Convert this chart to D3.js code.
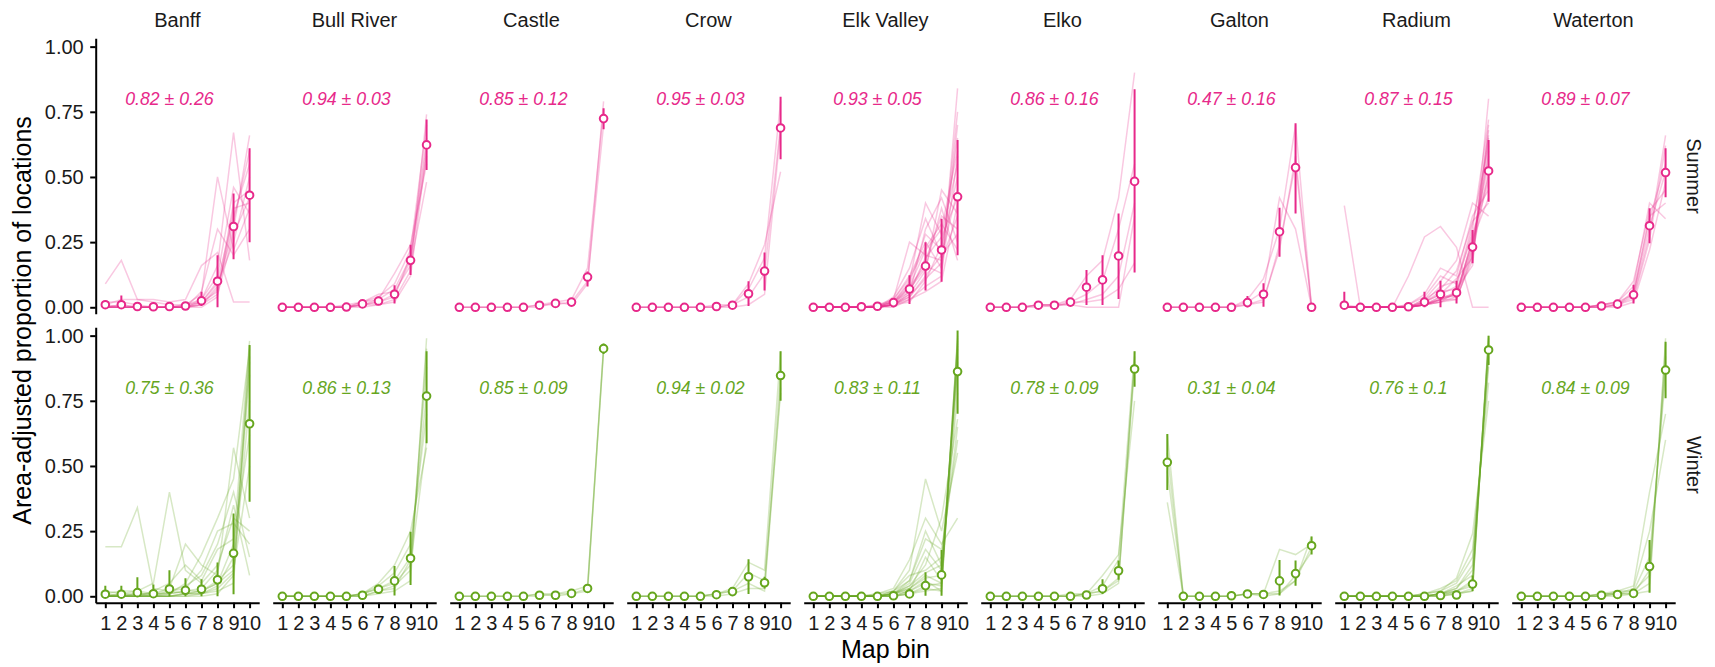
<!DOCTYPE html>
<html>
  <body>
    <style>
      body {
        margin: 0;
        background: #ffffff;
      }
      text {
        font-family: 'Liberation Sans', Arial, sans-serif;
      }
    </style>
    <script src="https://d3js.org/d3.v7.min.js"></script>
    <script type="text/javascript">
      const width = 1715;
      const height = 667;

      const sites = ['Banff', 'Bull River', 'Castle', 'Crow', 'Elk Valley', 'Elko', 'Galton', 'Radium', 'Waterton'];
      const seasons = ['Summer', 'Winter'];
      const bins = ['1', '2', '3', '4', '5', '6', '7', '8', '9', '10'];
      const yTicks = [0, 0.25, 0.5, 0.75, 1];
      const seasonColors = ['#E7298A', '#66A61E'];

      // correlation shown in each panel (mean ± sd)
      const summerRho = [0.82, 0.94, 0.85, 0.95, 0.93, 0.86, 0.47, 0.87, 0.89];
      const summerRhoSd = [0.26, 0.03, 0.12, 0.03, 0.05, 0.16, 0.16, 0.15, 0.07];
      const winterRho = [0.75, 0.86, 0.85, 0.94, 0.83, 0.78, 0.31, 0.76, 0.84];
      const winterRhoSd = [0.36, 0.13, 0.09, 0.02, 0.11, 0.09, 0.04, 0.1, 0.09];

      // mean per bin, with error bar ends
      const summerMean = [
        [0.01, 0.01, 0.003, 0.002, 0.003, 0.005, 0.025, 0.10, 0.31, 0.43],
        [0, 0, 0, 0, 0.001, 0.013, 0.024, 0.05, 0.18, 0.623],
        [0, 0, 0, 0, 0, 0.008, 0.015, 0.02, 0.116, 0.724],
        [0, 0, 0, 0, 0, 0.003, 0.008, 0.052, 0.139, 0.688],
        [0, 0, 0, 0.002, 0.004, 0.018, 0.07, 0.158, 0.22, 0.424],
        [0, 0, 0, 0.008, 0.008, 0.02, 0.077, 0.105, 0.197, 0.483],
        [0, 0, 0, 0, 0, 0.018, 0.05, 0.29, 0.536, 0],
        [0.008, 0, 0, 0, 0.002, 0.02, 0.05, 0.056, 0.231, 0.523],
        [0, 0, 0, 0, 0, 0.005, 0.012, 0.048, 0.313, 0.517],
      ];
      const summerLow = [
        [0, 0, 0, 0, 0, 0, 0.005, 0, 0.184, 0.25],
        [0, 0, 0, 0, 0, 0.005, 0.01, 0.015, 0.124, 0.527],
        [0, 0, 0, 0, 0, 0.003, 0.008, 0.01, 0.08, 0.683],
        [0, 0, 0, 0, 0, 0, 0.002, 0.005, 0.064, 0.568],
        [0, 0, 0, 0, 0, 0.005, 0.013, 0.064, 0.098, 0.20],
        [0, 0, 0, 0, 0, 0.005, 0.009, 0.009, 0.032, 0.133],
        [0, 0, 0, 0, 0, 0, 0.002, 0.194, 0.36, 0],
        [0, 0, 0, 0, 0, 0, 0, 0.015, 0.169, 0.405],
        [0, 0, 0, 0, 0, 0, 0.005, 0.015, 0.246, 0.422],
      ];
      const summerHigh = [
        [0.025, 0.045, 0.01, 0.008, 0.01, 0.015, 0.06, 0.20, 0.437, 0.61],
        [0, 0, 0, 0, 0.003, 0.025, 0.04, 0.085, 0.24, 0.72],
        [0, 0, 0, 0, 0, 0.014, 0.025, 0.03, 0.137, 0.764],
        [0, 0, 0, 0, 0, 0.006, 0.015, 0.10, 0.21, 0.808],
        [0, 0, 0, 0.005, 0.01, 0.035, 0.123, 0.25, 0.34, 0.642],
        [0, 0, 0, 0.015, 0.015, 0.035, 0.143, 0.20, 0.36, 0.837],
        [0, 0, 0, 0, 0, 0.043, 0.092, 0.382, 0.706, 0],
        [0.06, 0, 0, 0.002, 0.005, 0.06, 0.102, 0.102, 0.297, 0.642],
        [0, 0, 0, 0, 0, 0.01, 0.02, 0.086, 0.38, 0.61],
      ];
      const winterMean = [
        [0.008, 0.008, 0.014, 0.01, 0.028, 0.023, 0.027, 0.063, 0.165, 0.662],
        [0, 0, 0, 0, 0, 0.004, 0.027, 0.059, 0.146, 0.768],
        [0, 0, 0, 0, 0, 0.004, 0.004, 0.011, 0.03, 0.95],
        [0, 0, 0, 0, 0, 0.006, 0.018, 0.075, 0.052, 0.847],
        [0, 0, 0, 0, 0, 0.002, 0.009, 0.041, 0.082, 0.862],
        [0, 0, 0, 0, 0, 0, 0.005, 0.029, 0.098, 0.872],
        [0.514, 0, 0, 0, 0.002, 0.009, 0.007, 0.059, 0.087, 0.194],
        [0, 0, 0, 0, 0, 0, 0.003, 0.005, 0.047, 0.945],
        [0, 0, 0, 0, 0, 0.004, 0.007, 0.011, 0.114, 0.868],
      ];
      const winterLow = [
        [0, 0, 0, 0, 0, 0, 0, 0, 0.008, 0.363],
        [0, 0, 0, 0, 0, 0, 0.01, 0.003, 0.043, 0.587],
        [0, 0, 0, 0, 0, 0, 0, 0.005, 0.02, 0.93],
        [0, 0, 0, 0, 0, 0, 0.008, 0.009, 0.03, 0.75],
        [0, 0, 0, 0, 0, 0, 0, 0.002, 0.002, 0.70],
        [0, 0, 0, 0, 0, 0, 0, 0.009, 0.063, 0.804],
        [0.408, 0, 0, 0, 0, 0, 0, 0.003, 0.04, 0.16],
        [0, 0, 0, 0, 0, 0, 0, 0, 0.02, 0.887],
        [0, 0, 0, 0, 0, 0, 0, 0.003, 0.014, 0.76],
      ];
      const winterHigh = [
        [0.04, 0.04, 0.073, 0.045, 0.10, 0.069, 0.065, 0.13, 0.318, 0.964],
        [0, 0, 0, 0, 0, 0.01, 0.045, 0.116, 0.248, 0.94],
        [0, 0, 0, 0, 0, 0.008, 0.008, 0.018, 0.04, 0.97],
        [0, 0, 0, 0, 0, 0.012, 0.03, 0.142, 0.075, 0.94],
        [0, 0, 0, 0, 0, 0.005, 0.03, 0.092, 0.178, 1.02],
        [0, 0, 0, 0, 0, 0, 0.01, 0.065, 0.137, 0.94],
        [0.623, 0, 0, 0, 0.005, 0.02, 0.015, 0.139, 0.137, 0.229],
        [0, 0, 0, 0, 0, 0, 0.008, 0.012, 0.08, 1.0],
        [0, 0, 0, 0, 0, 0.008, 0.015, 0.02, 0.216, 0.977],
      ];

      // individual animals (faint lines), one list per site
      const summerTracks = [
        [
          [0.09, 0.18, 0.03, 0.02, 0.01, 0.01, 0.02, 0.06, 0.40, 0.45],
          [0, 0, 0, 0, 0, 0.01, 0.05, 0.50, 0.22, 0.38],
          [0, 0.01, 0, 0, 0, 0, 0.03, 0.16, 0.67, 0.18],
          [0.01, 0.03, 0.03, 0.03, 0.02, 0.03, 0.16, 0.21, 0.02, 0.02],
          [0, 0, 0, 0, 0, 0, 0.01, 0.08, 0.30, 0.66],
          [0, 0, 0, 0, 0, 0, 0.02, 0.10, 0.35, 0.55],
          [0, 0, 0, 0, 0, 0, 0.01, 0.05, 0.28, 0.42],
          [0.01, 0, 0, 0, 0, 0.01, 0.03, 0.12, 0.46, 0.36],
          [0, 0, 0, 0, 0, 0, 0.02, 0.09, 0.25, 0.50],
          [0, 0.01, 0, 0, 0, 0, 0.01, 0.07, 0.33, 0.60],
          [0, 0, 0, 0, 0, 0, 0, 0.04, 0.38, 0.40],
          [0.02, 0.02, 0.01, 0, 0, 0, 0.06, 0.30, 0.20, 0.30],
        ],
        [
          [0, 0, 0, 0, 0, 0.01, 0.02, 0.05, 0.18, 0.62],
          [0, 0, 0, 0, 0, 0.02, 0.04, 0.09, 0.22, 0.70],
          [0, 0, 0, 0, 0, 0.01, 0.03, 0.13, 0.24, 0.55],
          [0, 0, 0, 0, 0, 0.01, 0.01, 0.03, 0.14, 0.74],
          [0, 0, 0, 0, 0, 0.02, 0.05, 0.06, 0.16, 0.48],
          [0, 0, 0, 0, 0, 0.01, 0.02, 0.04, 0.20, 0.65],
          [0, 0, 0, 0, 0, 0, 0.01, 0.02, 0.12, 0.60],
          [0, 0, 0, 0, 0.01, 0.02, 0.03, 0.07, 0.19, 0.58],
        ],
        [
          [0, 0, 0, 0, 0, 0.01, 0.02, 0.03, 0.15, 0.76],
          [0, 0, 0, 0, 0, 0.01, 0.01, 0.02, 0.10, 0.70],
          [0, 0, 0, 0, 0, 0, 0.02, 0.01, 0.09, 0.79],
        ],
        [
          [0, 0, 0, 0, 0, 0.01, 0.01, 0.07, 0.19, 0.79],
          [0, 0, 0, 0, 0, 0, 0.01, 0.04, 0.13, 0.70],
          [0, 0, 0, 0, 0, 0, 0.01, 0.09, 0.24, 0.52],
          [0, 0, 0, 0, 0, 0, 0, 0.01, 0.05, 0.68],
        ],
        [
          [0, 0, 0, 0, 0, 0.01, 0.04, 0.12, 0.20, 0.45],
          [0, 0, 0, 0, 0, 0.02, 0.08, 0.22, 0.30, 0.60],
          [0, 0, 0, 0, 0.01, 0.03, 0.25, 0.20, 0.18, 0.35],
          [0, 0, 0, 0, 0, 0.01, 0.05, 0.30, 0.42, 0.25],
          [0, 0, 0, 0, 0, 0.02, 0.10, 0.40, 0.28, 0.55],
          [0, 0, 0, 0, 0, 0.01, 0.03, 0.08, 0.12, 0.84],
          [0, 0, 0, 0, 0, 0.01, 0.06, 0.18, 0.35, 0.30],
          [0, 0, 0, 0, 0, 0.03, 0.12, 0.25, 0.15, 0.70],
          [0, 0, 0, 0, 0, 0.01, 0.02, 0.10, 0.24, 0.50],
          [0, 0, 0, 0, 0.01, 0.02, 0.07, 0.15, 0.38, 0.18],
          [0, 0, 0, 0, 0, 0, 0.03, 0.06, 0.10, 0.40],
          [0, 0, 0, 0, 0, 0.02, 0.09, 0.28, 0.22, 0.65],
          [0, 0, 0, 0, 0, 0.01, 0.05, 0.14, 0.45, 0.36],
          [0, 0, 0, 0, 0, 0.04, 0.15, 0.34, 0.20, 0.28],
          [0, 0, 0, 0, 0, 0.01, 0.04, 0.11, 0.17, 0.75],
          [0, 0, 0, 0, 0, 0.02, 0.06, 0.19, 0.27, 0.42],
          [0, 0, 0, 0, 0, 0.01, 0.08, 0.16, 0.13, 0.58],
          [0, 0, 0, 0, 0, 0.03, 0.11, 0.23, 0.32, 0.22],
        ],
        [
          [0, 0, 0, 0.01, 0.01, 0.03, 0.12, 0.18, 0.42, 0.90],
          [0, 0, 0, 0.01, 0.01, 0.02, 0.05, 0.10, 0.30, 0.55],
          [0, 0, 0, 0, 0.01, 0.01, 0.03, 0.05, 0.12, 0.40],
          [0, 0, 0, 0.01, 0, 0.02, 0.02, 0.03, 0.07, 0.17],
          [0, 0, 0, 0.01, 0.01, 0.01, 0, 0, 0, 0.35],
        ],
        [
          [0, 0, 0, 0, 0, 0.02, 0.06, 0.42, 0.30, 0],
          [0, 0, 0, 0, 0, 0.03, 0.11, 0.30, 0.70, 0],
          [0, 0, 0, 0, 0, 0.01, 0.03, 0.22, 0.58, 0],
          [0, 0, 0, 0, 0, 0.01, 0.02, 0.24, 0.55, 0],
        ],
        [
          [0.39, 0, 0, 0, 0, 0.01, 0.03, 0.06, 0.25, 0.55],
          [0, 0, 0, 0, 0.12, 0.27, 0.31, 0.23, 0, 0],
          [0, 0, 0, 0, 0, 0.02, 0.05, 0.08, 0.30, 0.72],
          [0, 0, 0, 0, 0, 0.01, 0.04, 0.05, 0.22, 0.60],
          [0, 0, 0, 0, 0.01, 0.05, 0.15, 0.12, 0.35, 0.45],
          [0, 0, 0, 0, 0, 0.01, 0.02, 0.04, 0.18, 0.65],
          [0, 0, 0, 0, 0, 0.02, 0.08, 0.10, 0.28, 0.50],
          [0, 0, 0, 0, 0, 0.01, 0.03, 0.03, 0.20, 0.68],
          [0.01, 0, 0, 0, 0, 0.03, 0.10, 0.18, 0.40, 0.35],
          [0, 0, 0, 0, 0, 0.01, 0.02, 0.06, 0.24, 0.58],
          [0, 0, 0, 0, 0, 0.02, 0.06, 0.07, 0.16, 0.80],
          [0, 0, 0, 0, 0, 0.01, 0.03, 0.05, 0.26, 0.42],
          [0, 0, 0, 0, 0.01, 0.04, 0.12, 0.09, 0.32, 0.62],
          [0, 0, 0, 0, 0, 0.01, 0.02, 0.03, 0.21, 0.52],
          [0, 0, 0, 0, 0, 0.02, 0.05, 0.11, 0.19, 0.70],
          [0, 0, 0, 0, 0, 0.01, 0.04, 0.04, 0.27, 0.48],
          [0, 0, 0, 0, 0, 0.03, 0.07, 0.14, 0.33, 0.40],
          [0, 0, 0, 0, 0, 0.01, 0.03, 0.05, 0.23, 0.66],
        ],
        [
          [0, 0, 0, 0, 0, 0, 0.01, 0.05, 0.31, 0.52],
          [0, 0, 0, 0, 0, 0.01, 0.02, 0.08, 0.40, 0.34],
          [0, 0, 0, 0, 0, 0, 0.01, 0.03, 0.26, 0.62],
          [0, 0, 0, 0, 0, 0.01, 0.02, 0.10, 0.37, 0.45],
          [0, 0, 0, 0, 0, 0, 0.01, 0.04, 0.28, 0.66],
          [0, 0, 0, 0, 0, 0.01, 0.01, 0.06, 0.34, 0.55],
          [0, 0, 0, 0, 0, 0, 0, 0.02, 0.22, 0.48],
          [0, 0, 0, 0, 0, 0.01, 0.02, 0.05, 0.35, 0.40],
        ],
      ];
      const winterTracks = [
        [
          [0.19, 0.19, 0.34, 0.03, 0.02, 0.01, 0.02, 0.05, 0.10, 0.50],
          [0, 0.01, 0.02, 0.05, 0.40, 0.10, 0.05, 0.12, 0.30, 0.25],
          [0, 0, 0.01, 0.01, 0.03, 0.20, 0.12, 0.08, 0.57, 0.30],
          [0.01, 0.02, 0.02, 0.01, 0.01, 0.05, 0.16, 0.30, 0.45, 0.95],
          [0, 0, 0, 0, 0, 0.01, 0.02, 0.05, 0.20, 0.98],
          [0, 0, 0, 0, 0.01, 0.02, 0.03, 0.10, 0.35, 0.08],
          [0.02, 0.01, 0.01, 0, 0, 0.01, 0.01, 0.04, 0.15, 0.90],
          [0, 0, 0, 0, 0.02, 0.04, 0.08, 0.20, 0.40, 0.15],
          [0, 0, 0.01, 0.01, 0.01, 0.02, 0.02, 0.06, 0.12, 0.85],
          [0, 0, 0, 0, 0, 0, 0.01, 0.03, 0.09, 0.75],
          [0, 0.01, 0, 0.02, 0.05, 0.12, 0.06, 0.18, 0.22, 0.62],
          [0, 0, 0, 0, 0, 0.01, 0.01, 0.02, 0.05, 0.92],
          [0.01, 0, 0, 0.01, 0.02, 0.03, 0.10, 0.25, 0.28, 0.20],
          [0, 0, 0, 0, 0, 0, 0, 0.01, 0.08, 0.96],
        ],
        [
          [0, 0, 0, 0, 0, 0.01, 0.03, 0.06, 0.15, 0.78],
          [0, 0, 0, 0, 0, 0.01, 0.05, 0.12, 0.25, 0.57],
          [0, 0, 0, 0, 0, 0, 0.02, 0.04, 0.10, 0.95],
          [0, 0, 0, 0, 0, 0.01, 0.04, 0.09, 0.20, 0.70],
          [0, 0, 0, 0, 0, 0, 0.01, 0.02, 0.06, 0.99],
          [0, 0, 0, 0, 0, 0.01, 0.03, 0.05, 0.12, 0.60],
          [0, 0, 0, 0, 0, 0, 0.02, 0.03, 0.14, 0.88],
        ],
        [
          [0, 0, 0, 0, 0, 0, 0.01, 0.02, 0.04, 0.94],
          [0, 0, 0, 0, 0, 0.01, 0, 0.01, 0.03, 0.96],
          [0, 0, 0, 0, 0, 0.01, 0.01, 0.01, 0.02, 0.95],
        ],
        [
          [0, 0, 0, 0, 0, 0.01, 0.03, 0.13, 0.10, 0.94],
          [0, 0, 0, 0, 0, 0.01, 0.02, 0.09, 0.06, 0.78],
          [0, 0, 0, 0, 0, 0, 0.01, 0.03, 0.03, 0.86],
          [0, 0, 0, 0, 0, 0.01, 0.02, 0.05, 0.02, 0.80],
        ],
        [
          [0, 0, 0, 0, 0, 0.01, 0.03, 0.08, 0.05, 0.98],
          [0, 0, 0, 0, 0, 0.02, 0.10, 0.45, 0.25, 0.55],
          [0, 0, 0, 0, 0, 0.01, 0.06, 0.25, 0.12, 0.90],
          [0, 0, 0, 0, 0.01, 0.03, 0.14, 0.30, 0.20, 0.30],
          [0, 0, 0, 0, 0, 0, 0.01, 0.03, 0.02, 1.0],
          [0, 0, 0, 0, 0, 0.01, 0.04, 0.12, 0.30, 0.68],
          [0, 0, 0, 0, 0, 0, 0.02, 0.05, 0.04, 0.95],
          [0, 0, 0, 0, 0, 0.01, 0.05, 0.18, 0.10, 0.78],
          [0, 0, 0, 0, 0, 0.02, 0.08, 0.10, 0.15, 0.65],
          [0, 0, 0, 0, 0, 0, 0.01, 0.02, 0.03, 0.99],
          [0, 0, 0, 0, 0, 0.01, 0.03, 0.07, 0.08, 0.92],
          [0, 0, 0, 0, 0, 0.01, 0.02, 0.15, 0.06, 0.85],
          [0, 0, 0, 0, 0, 0, 0.01, 0.04, 0.05, 0.97],
          [0, 0, 0, 0, 0.01, 0.02, 0.06, 0.22, 0.18, 0.60],
          [0, 0, 0, 0, 0, 0, 0.02, 0.06, 0.02, 0.96],
          [0, 0, 0, 0, 0, 0.01, 0.04, 0.09, 0.12, 0.88],
        ],
        [
          [0, 0, 0, 0, 0, 0, 0.01, 0.04, 0.14, 0.94],
          [0, 0, 0, 0, 0, 0, 0.01, 0.08, 0.16, 0.75],
          [0, 0, 0, 0, 0, 0, 0.01, 0.02, 0.07, 0.90],
          [0, 0, 0, 0, 0, 0.01, 0.01, 0.02, 0.06, 0.88],
          [0, 0, 0, 0, 0, 0, 0, 0.01, 0.05, 0.92],
        ],
        [
          [0.62, 0, 0, 0, 0, 0.01, 0.01, 0.18, 0.16, 0.20],
          [0.36, 0, 0, 0, 0, 0.01, 0.01, 0.02, 0.06, 0.23],
          [0.55, 0, 0, 0, 0, 0.01, 0, 0.01, 0.08, 0.17],
          [0.48, 0, 0, 0, 0, 0.01, 0.01, 0.01, 0.06, 0.19],
        ],
        [
          [0, 0, 0, 0, 0, 0, 0.01, 0.02, 0.05, 0.97],
          [0, 0, 0, 0, 0, 0.01, 0.02, 0.07, 0.24, 0.75],
          [0, 0, 0, 0, 0, 0, 0.01, 0.03, 0.10, 0.95],
          [0, 0, 0, 0, 0, 0, 0, 0.01, 0.03, 0.99],
          [0, 0, 0, 0, 0, 0.01, 0.02, 0.05, 0.15, 0.88],
          [0, 0, 0, 0, 0, 0, 0.01, 0.01, 0.02, 1.0],
          [0, 0, 0, 0, 0, 0, 0.01, 0.04, 0.08, 0.92],
          [0, 0, 0, 0, 0, 0, 0, 0.02, 0.04, 0.98],
          [0, 0, 0, 0, 0, 0.01, 0.03, 0.06, 0.18, 0.82],
          [0, 0, 0, 0, 0, 0, 0.01, 0.02, 0.06, 0.96],
          [0, 0, 0, 0, 0, 0, 0, 0.01, 0.02, 0.99],
          [0, 0, 0, 0, 0, 0, 0.01, 0.03, 0.12, 0.90],
        ],
        [
          [0, 0, 0, 0, 0, 0, 0.01, 0.01, 0.05, 0.97],
          [0, 0, 0, 0, 0, 0.01, 0.02, 0.04, 0.40, 0.70],
          [0, 0, 0, 0, 0, 0, 0.01, 0.01, 0.10, 0.90],
          [0, 0, 0, 0, 0, 0.01, 0.01, 0.03, 0.25, 0.60],
          [0, 0, 0, 0, 0, 0, 0, 0.01, 0.02, 0.99],
          [0, 0, 0, 0, 0, 0, 0.02, 0.02, 0.15, 0.85],
          [0, 0, 0, 0, 0, 0.01, 0.01, 0.02, 0.08, 0.92],
        ],
      ];

      const seasonData = [
        { rho: summerRho, sd: summerRhoSd, mean: summerMean, low: summerLow, high: summerHigh, tracks: summerTracks },
        { rho: winterRho, sd: winterRhoSd, mean: winterMean, low: winterLow, high: winterHigh, tracks: winterTracks },
      ];

      // layout
      const panelLeft = 95.7;
      const panelStep = 177;
      const panelW = 163.5;
      const panelH = 275.4;
      const rowTops = [38.3, 327.3];
      const axisFont = 20;
      const titleFont = 25;

      const xScale = d3.scalePoint()
        .domain(bins)
        .range([0, panelW])
        .padding(0.6);

      const yScale = d3.scaleLinear()
        .domain([-0.0246, 1.032])
        .range([panelH, 0]);

      const svg = d3.select('body')
        .append('svg')
        .attr('width', width)
        .attr('height', height);

      svg.append('defs')
        .append('clipPath')
        .attr('id', 'panel-clip')
        .append('rect')
        .attr('width', panelW)
        .attr('height', panelH);

      const line = d3.line()
        .x((d, i) => xScale(bins[i]))
        .y((d) => yScale(d));

      seasons.forEach((season, r) => {
        const sd = seasonData[r];
        const color = seasonColors[r];

        sites.forEach((site, c) => {
          const g = svg.append('g')
            .attr('transform', `translate(${panelLeft + c * panelStep},${rowTops[r]})`);

          const plot = g.append('g').attr('clip-path', 'url(#panel-clip)');

          plot.selectAll('path.track')
            .data(sd.tracks[c])
            .enter()
            .append('path')
            .attr('class', 'track')
            .attr('d', line)
            .attr('fill', 'none')
            .attr('stroke', color)
            .attr('stroke-opacity', 0.26)
            .attr('stroke-width', 1.5);

          plot.selectAll('line.err')
            .data(bins)
            .enter()
            .append('line')
            .attr('class', 'err')
            .attr('x1', (b) => xScale(b))
            .attr('x2', (b) => xScale(b))
            .attr('y1', (b, i) => yScale(sd.low[c][i]))
            .attr('y2', (b, i) => yScale(sd.high[c][i]))
            .attr('stroke', color)
            .attr('stroke-width', 2);

          plot.selectAll('circle.mean')
            .data(bins)
            .enter()
            .append('circle')
            .attr('class', 'mean')
            .attr('cx', (b) => xScale(b))
            .attr('cy', (b, i) => yScale(sd.mean[c][i]))
            .attr('r', 3.8)
            .attr('fill', '#ffffff')
            .attr('stroke', color)
            .attr('stroke-width', 2);

          g.append('text')
            .attr('x', xScale('5'))
            .attr('y', yScale(0.8))
            .attr('dy', '0.35em')
            .attr('text-anchor', 'middle')
            .attr('font-style', 'italic')
            .attr('font-size', 17.7)
            .attr('fill', color)
            .text(`${sd.rho[c]} ± ${sd.sd[c]}`);

          if (c === 0) {
            const yAxis = g.append('g')
              .call(d3.axisLeft(yScale)
                .tickValues(yTicks)
                .tickFormat(d3.format('.2f'))
                .tickSize(5.5)
                .tickSizeOuter(0)
                .tickPadding(6.5));
            yAxis.select('.domain').attr('stroke', '#000').attr('stroke-width', 2);
            yAxis.selectAll('.tick line').attr('stroke', '#000').attr('stroke-width', 2);
            yAxis.selectAll('.tick text')
              .attr('font-size', axisFont)
              .attr('font-family', "'Liberation Sans', Arial, sans-serif")
              .attr('fill', '#1a1a1a');
          }

          if (r === 1) {
            const xAxis = g.append('g')
              .attr('transform', `translate(0,${panelH})`)
              .call(d3.axisBottom(xScale)
                .tickSize(5.5)
                .tickSizeOuter(0)
                .tickPadding(8));
            xAxis.select('.domain').attr('stroke', '#000').attr('stroke-width', 2);
            xAxis.selectAll('.tick line').attr('stroke', '#000').attr('stroke-width', 2);
            xAxis.selectAll('.tick text')
              .attr('font-size', axisFont)
              .attr('font-family', "'Liberation Sans', Arial, sans-serif")
              .attr('fill', '#1a1a1a');
          }

          if (r === 0) {
            svg.append('text')
              .attr('x', panelLeft + c * panelStep + panelW / 2)
              .attr('y', 26.7)
              .attr('text-anchor', 'middle')
              .attr('font-size', axisFont)
              .attr('fill', '#1a1a1a')
              .text(site);
          }
        });

        svg.append('text')
          .attr('transform', `translate(1687,${rowTops[r] + panelH / 2}) rotate(90)`)
          .attr('text-anchor', 'middle')
          .attr('font-size', axisFont)
          .attr('fill', '#1a1a1a')
          .text(season);
      });

      const plotCenterX = panelLeft + (8 * panelStep + panelW) / 2;

      svg.append('text')
        .attr('x', plotCenterX)
        .attr('y', 658.3)
        .attr('text-anchor', 'middle')
        .attr('font-size', titleFont)
        .attr('fill', '#000')
        .text('Map bin');

      svg.append('text')
        .attr('transform', `translate(31,${(rowTops[0] + rowTops[1] + panelH) / 2}) rotate(-90)`)
        .attr('text-anchor', 'middle')
        .attr('font-size', titleFont)
        .attr('fill', '#000')
        .text('Area-adjusted proportion of locations');
    </script>
  </body>
</html>
